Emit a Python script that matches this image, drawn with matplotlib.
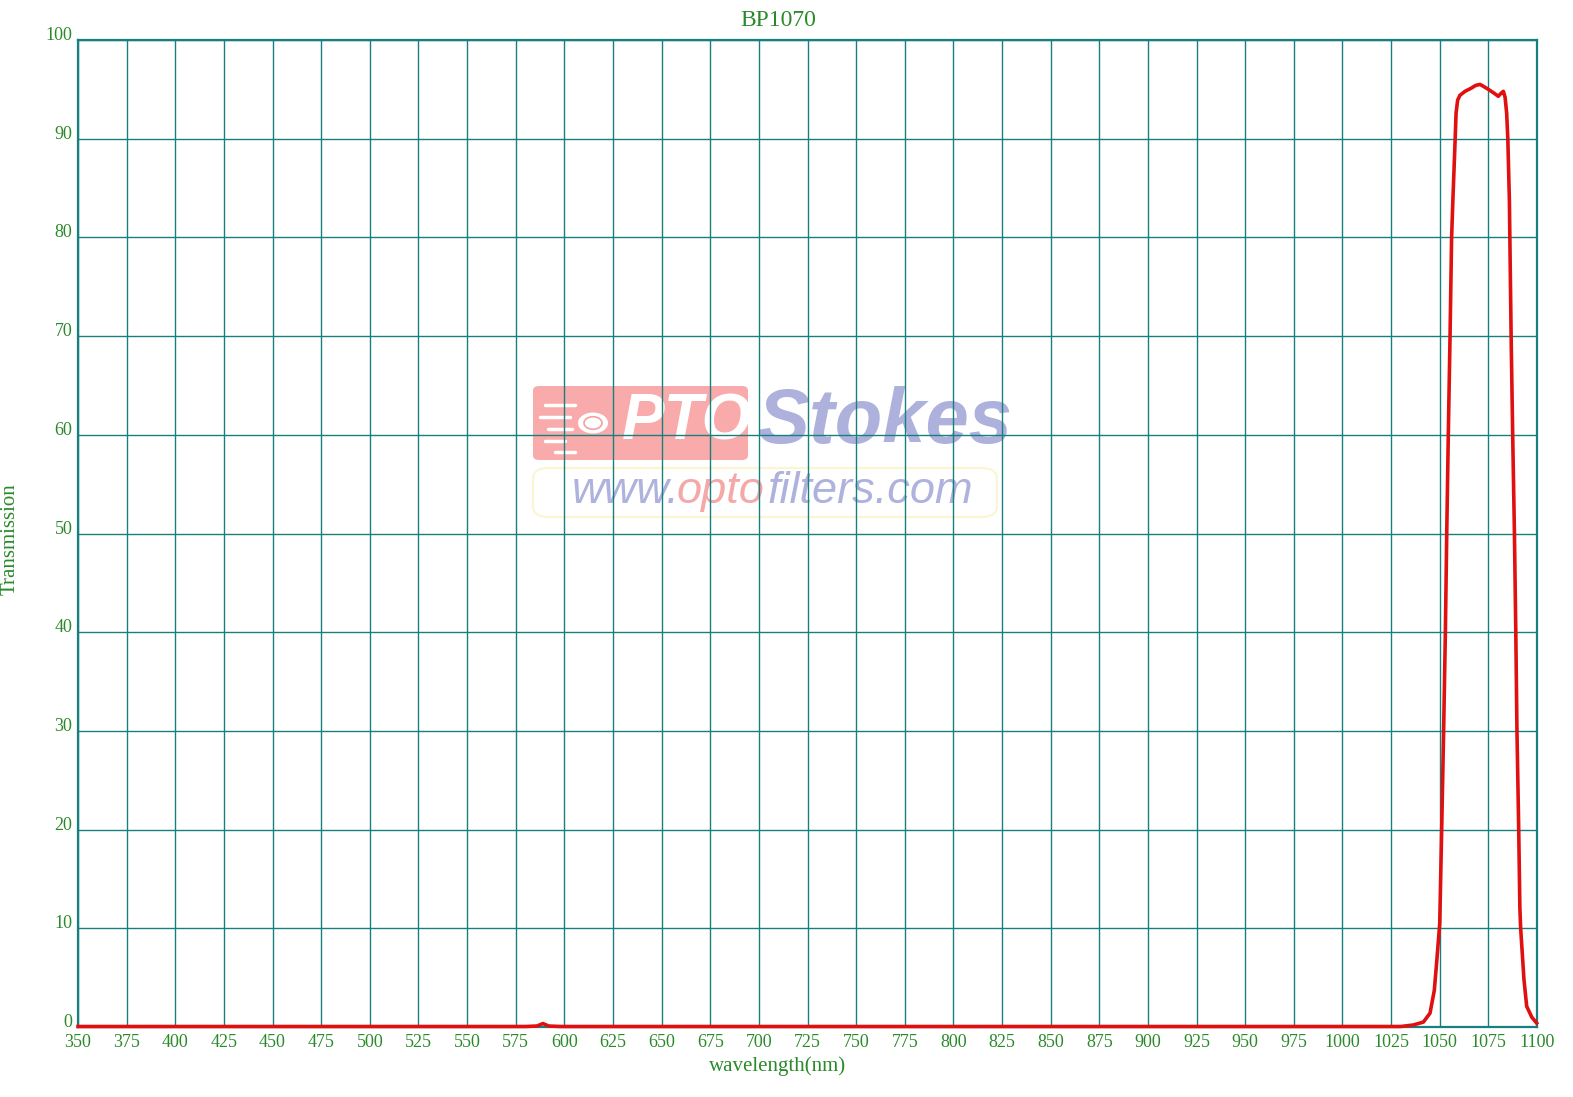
import numpy as np
import matplotlib.pyplot as plt
from matplotlib.patches import FancyBboxPatch, Circle

# transmission curve of the BP1070 filter
wavelength = [350, 400, 450, 500, 550, 580, 586, 589, 592, 598, 650, 700, 750,
              800, 850, 900, 950, 1000, 1030, 1036.3, 1041.6, 1045.0, 1047.2,
              1048.4, 1050.0, 1051.0, 1052.0, 1052.9, 1053.6, 1054.4, 1055.3,
              1056.1, 1056.8, 1057.9, 1058.4, 1059.2, 1060.4, 1063, 1066,
              1068.5, 1070.7, 1072.5, 1075, 1078, 1080.1, 1081.5, 1082.7,
              1083.6, 1084.4, 1085.0, 1085.8, 1086.7, 1087.5, 1088.4, 1089.1,
              1089.7, 1090.6, 1091.2, 1091.6, 1093.3, 1094.7, 1097.3, 1099.8]
transmission = [0.05, 0.05, 0.05, 0.05, 0.05, 0.05, 0.1, 0.35, 0.1, 0.05, 0.05,
                0.05, 0.05, 0.05, 0.05, 0.05, 0.05, 0.05, 0.05, 0.2, 0.5, 1.4,
                3.7, 6.5, 10.5, 20, 30, 40, 50, 60, 70,
                80, 84, 89.8, 92.6, 93.9, 94.4, 94.8, 95.1,
                95.4, 95.5, 95.3, 95.0, 94.6, 94.3, 94.6, 94.8,
                94.2, 92.6, 90, 83.8, 70, 60, 50, 40,
                30, 20, 12, 10, 4.8, 2.1, 1.0, 0.4]

x_ticks = list(range(350, 1101, 25))
y_ticks = list(range(0, 101, 10))

grid_col = '#17807f'
text_col = '#2a8a2a'
serif = ['Liberation Serif', 'DejaVu Serif']

W, H = 1573, 1097
fig = plt.figure(figsize=(W / 100, H / 100), dpi=100)
ax = fig.add_axes([78 / W, 1 - 1027 / H, (1537 - 78) / W, (1027 - 40) / H])


def px(x, y):
    # pixel position -> figure fraction (for the watermark only)
    return x / W, 1 - y / H


# watermark, sits under the grid
fig_tr = fig.transFigure
x0, y0 = px(533, 460)
x1, y1 = px(748, 386)
ax.add_patch(FancyBboxPatch((x0, y0), x1 - x0, y1 - y0,
                            boxstyle='round,pad=0,rounding_size=0.004',
                            transform=fig_tr, facecolor='#f9abab',
                            edgecolor='none', zorder=0.5))
x0, y0 = px(533, 517)
x1, y1 = px(997, 468)
ax.add_patch(FancyBboxPatch((x0, y0), x1 - x0, y1 - y0,
                            boxstyle='round,pad=0,rounding_size=0.01',
                            transform=fig_tr, facecolor='none',
                            edgecolor='#fbf6cf', lw=1.5, zorder=0.5))
cx, cy = px(593, 423)
ax.add_patch(Circle((cx, cy), 15 / W, transform=fig_tr, facecolor='white',
                    edgecolor='none', zorder=0.6))
ax.add_patch(Circle((cx, cy), 9 / W, transform=fig_tr, facecolor='none',
                    edgecolor='#f3a0a0', lw=1.2, zorder=0.7))
for (xa, xb, yy) in [(545, 575, 405), (540, 570, 417), (548, 572, 429),
                     (545, 565, 441), (555, 575, 452)]:
    pa, pb = px(xa, yy), px(xb, yy)
    ax.plot([pa[0], pb[0]], [pa[1], pb[1]], transform=fig_tr, color='white',
            lw=2.5, solid_capstyle='round', zorder=0.6)
ax.text(*px(622, 423), 'PTO', transform=fig_tr, fontsize=46,
        family='Liberation Sans', weight='bold', style='italic',
        color='white', ha='left', va='center', zorder=0.7)
ax.text(*px(757, 423), 'Stokes', transform=fig_tr, fontsize=56,
        family='Liberation Sans', weight='bold', style='italic',
        color='#adb1dc', ha='left', va='center', zorder=0.7)
ax.text(*px(572, 503), 'www.', transform=fig_tr, fontsize=32.5,
        family='Liberation Sans', style='italic', color='#aeb2dc',
        ha='left', va='baseline', zorder=0.7)
ax.text(*px(677, 503), 'opto', transform=fig_tr, fontsize=32.5,
        family='Liberation Sans', style='italic', color='#f4a8a8',
        ha='left', va='baseline', zorder=0.7)
ax.text(*px(767, 503), 'filters.com', transform=fig_tr, fontsize=32.5,
        family='Liberation Sans', style='italic', color='#aeb2dc',
        ha='left', va='baseline', zorder=0.7)

ax.plot(wavelength, transmission, color='#e01010', lw=2.6, clip_on=False,
        zorder=3, solid_joinstyle='round')

ax.set_xlim(350, 1100)
ax.set_ylim(0, 100)
ax.set_xticks(x_ticks)
ax.set_yticks(y_ticks)
ax.grid(True, color=grid_col, lw=1.0)
ax.tick_params(length=0, labelsize=13, labelcolor=text_col)
ax.tick_params(axis='x', pad=5)
ax.tick_params(axis='y', pad=4)
for lab in ax.get_xticklabels() + ax.get_yticklabels():
    lab.set_family(serif)
plt.setp(ax.get_yticklabels(), va='baseline')
for s in ax.spines.values():
    s.set_color(grid_col)
    s.set_linewidth(1.6)

fig.text(778 / W, 1 - 21 / H, 'BP1070', ha='center', va='center',
         fontsize=17, color=text_col, family=serif)
fig.text(778 / W, 1 - 1066 / H, 'wavelength(nm)', ha='center', va='center',
         fontsize=15, color=text_col, family=serif)
fig.text(10 / W, 1 - 539 / H, 'Transmission', ha='center', va='center',
         rotation=90, fontsize=15, color=text_col, family=serif)

fig.savefig('out.png', dpi=100, facecolor='white')
